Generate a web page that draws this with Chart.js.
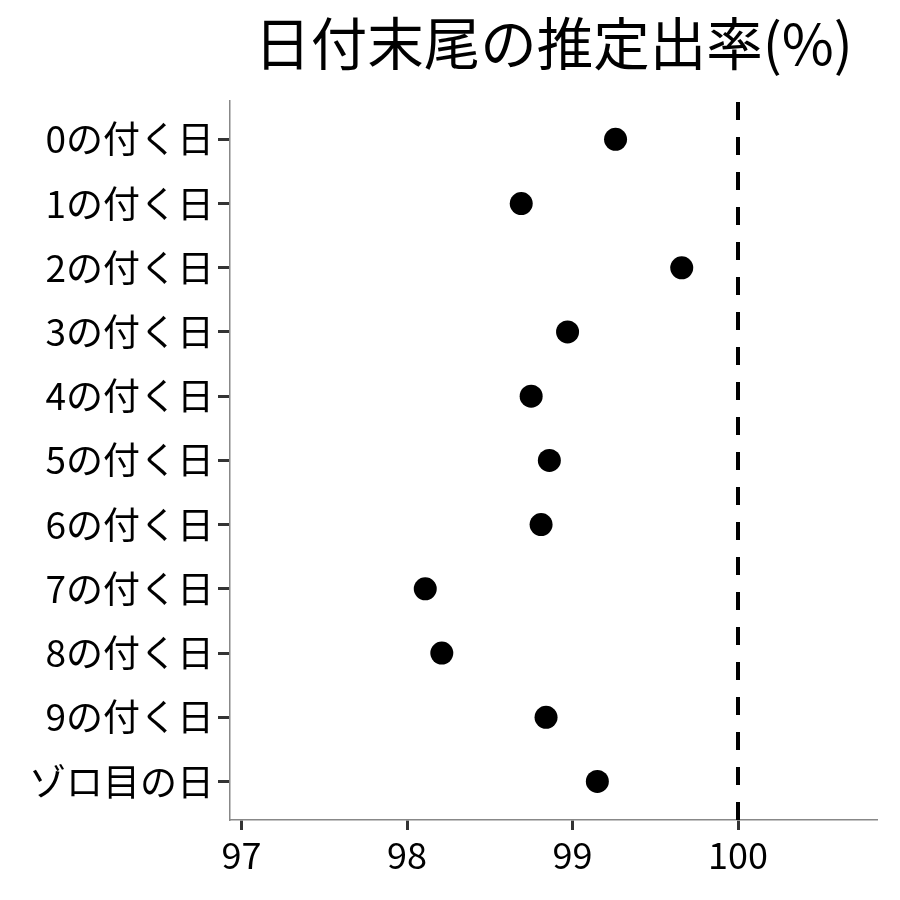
<!DOCTYPE html>
<html lang="ja">
<head>
<meta charset="utf-8">
<title>日付末尾の推定出率</title>
<script src="https://cdn.jsdelivr.net/npm/chart.js@4.4.1/dist/chart.umd.min.js"></script>
<style>
  html, body { margin: 0; padding: 0; background: #fff; }
  #wrap { width: 900px; height: 900px; }
</style>
</head>
<body>
<div id="wrap"><canvas id="c" width="900" height="900"></canvas></div>
<script>
/* ---------- データ ---------- */
const categories = [
  "0の付く日", "1の付く日", "2の付く日", "3の付く日", "4の付く日",
  "5の付く日", "6の付く日", "7の付く日", "8の付く日", "9の付く日", "ゾロ目の日",
];
const rates = [99.26, 98.69, 99.66, 98.97, 98.75, 98.86, 98.81, 98.11, 98.21, 98.84, 99.15];
const xTicks = [97, 98, 99, 100];
const refLine = 100;

const FONT = "'Noto Sans CJK JP', 'Noto Sans', sans-serif";
const Y_MIN = -0.6, Y_MAX = categories.length - 1 + 0.6;

/* ---------- チャート ---------- */
new Chart(document.getElementById("c"), {
  type: "scatter",
  data: {
    datasets: [
      {
        data: rates.map((v, i) => ({ x: v, y: i })),
        backgroundColor: "#000",
        borderColor: "#000",
        pointRadius: 11.5,
        pointHoverRadius: 11.5,
        borderWidth: 0,
      },
      {
        // 100% の破線 (下から上へ)
        type: "line",
        data: [{ x: refLine, y: Y_MAX }, { x: refLine, y: Y_MIN }],
        borderColor: "#000",
        borderWidth: 4,
        borderDash: [18, 17],
        pointRadius: 0,
        showLine: true,
        fill: false,
      },
    ],
  },
  options: {
    responsive: false,
    animation: false,
    layout: { padding: { left: 0, right: 23, top: 0, bottom: 0 } },
    plugins: {
      legend: { display: false },
      tooltip: { enabled: false },
      title: {
        display: true,
        text: "日付末尾の推定出率(%)",
        fullSize: false,
        color: "#000",
        font: { family: FONT, size: 56.5, weight: "normal", lineHeight: 1.2 },
        padding: { top: 10, bottom: 23 },
      },
    },
    scales: {
      x: {
        type: "linear",
        min: 96.93,
        max: 100.84,
        afterBuildTicks: (s) => { s.ticks = xTicks.map((v) => ({ value: v })); },
        afterFit: (s) => { s.height = 80; },
        ticks: { color: "#000", font: { family: FONT, size: 36 }, padding: 4, maxRotation: 0 },
        grid: { drawOnChartArea: false, tickLength: 10, tickColor: "#333", tickWidth: 3 },
        border: { color: "#888", width: 1.5 },
      },
      y: {
        type: "linear",
        reverse: true,
        min: Y_MIN,
        max: Y_MAX,
        afterBuildTicks: (s) => { s.ticks = categories.map((_, i) => ({ value: i })); },
        afterFit: (s) => { s.width = 230; },
        ticks: {
          color: "#000",
          font: { family: FONT, size: 37 },
          padding: 4,
          callback: (v) => categories[v],
        },
        grid: { drawOnChartArea: false, tickLength: 12, tickColor: "#333", tickWidth: 3 },
        border: { color: "#888", width: 1.5 },
      },
    },
  },
});
</script>
</body>
</html>
